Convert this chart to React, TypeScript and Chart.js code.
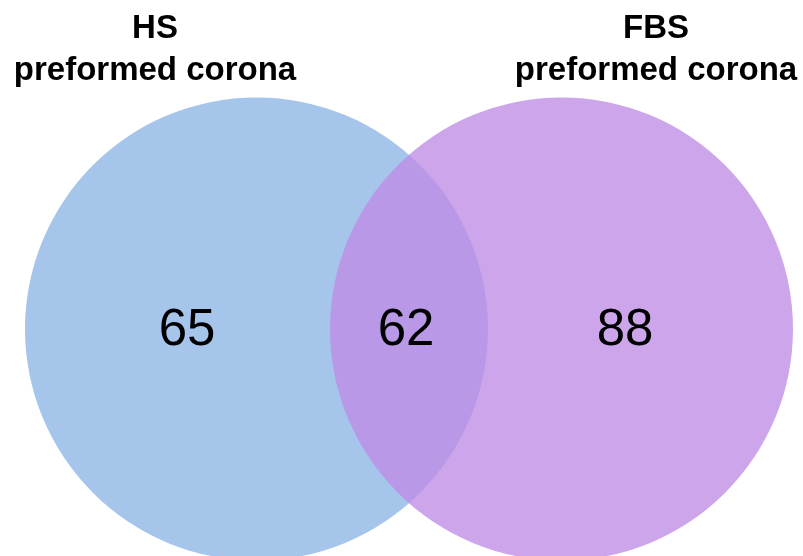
import React, { useEffect, useRef } from "react";
import { Chart, registerables } from "chart.js";

Chart.register(...registerables);

// Set titles (two lines each)
const setTitleTop = ["HS", "FBS"];
const setTitleBottom = ["preformed corona", "preformed corona"];
// Counts: only-HS, shared, only-FBS
const regionCounts = [65, 62, 88];

// Circle layout in chart units
const circleX = [256.5, 561.5];
const circleY = [329, 329];
const circleR = [231.5, 231.5];
const circleColors = ["rgb(166,197,235)", "rgba(190,141,230,0.79)"];

// Label anchor positions in chart units
const countX = [187, 406, 625];
const countY = [331, 331, 331];
const titleX = [155, 656];
const titleY1 = [29];
const titleY2 = [71];

const labelPlugin = {
  id: "vennLabels",
  afterDatasetsDraw(chart: any) {
    const { ctx, scales } = chart;
    const xs = scales.x;
    const ys = scales.y;
    ctx.save();
    ctx.fillStyle = "#000";
    ctx.textAlign = "center";
    ctx.textBaseline = "middle";
    ctx.font = "51px 'Liberation Sans', Arial, sans-serif";
    regionCounts.forEach((v, i) => {
      ctx.fillText(String(v), xs.getPixelForValue(countX[i]), ys.getPixelForValue(countY[i]));
    });
    ctx.font = "bold 33px 'Liberation Sans', Arial, sans-serif";
    setTitleTop.forEach((t, i) => {
      ctx.fillText(t, xs.getPixelForValue(titleX[i]), ys.getPixelForValue(titleY1[0]));
      ctx.fillText(setTitleBottom[i], xs.getPixelForValue(titleX[i]), ys.getPixelForValue(titleY2[0]));
    });
    ctx.restore();
  },
};

export default function App() {
  const ref = useRef<HTMLCanvasElement>(null);
  useEffect(() => {
    if (!ref.current) return;
    const chart = new Chart(ref.current, {
      type: "bubble",
      data: {
        datasets: [
          {
            data: circleX.map((x, i) => ({ x, y: circleY[i], r: circleR[i] })),
            backgroundColor: circleColors,
            hoverBackgroundColor: circleColors,
            borderWidth: 0,
            hoverBorderWidth: 0,
            hoverRadius: 0,
            clip: false,
          } as any,
        ],
      },
      options: {
        responsive: false,
        animation: false,
        events: [],
        layout: { padding: 0, autoPadding: false },
        plugins: { legend: { display: false }, tooltip: { enabled: false } },
        scales: {
          x: { type: "linear", min: 0, max: 803, display: false },
          y: { type: "linear", min: 0, max: 556, reverse: true, display: false },
        },
      },
      plugins: [labelPlugin],
    });
    return () => chart.destroy();
  }, []);
  return (
    <div style={{ position: "absolute", left: 0, top: 0, width: 803, height: 556, background: "#fff" }}>
      <canvas ref={ref} width={803} height={556} style={{ display: "block" }} />
    </div>
  );
}
